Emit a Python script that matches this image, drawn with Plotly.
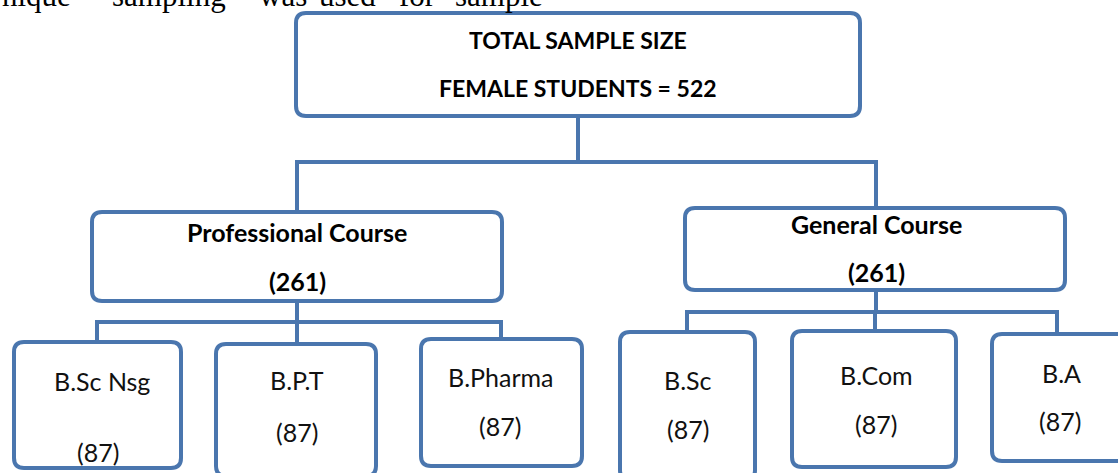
import plotly.graph_objects as go

# ---- data ----
root_lines = ["TOTAL SAMPLE SIZE", "FEMALE STUDENTS = 522"]
groups = ["Professional Course", "General Course"]
group_counts = [261, 261]
courses = ["B.Sc Nsg", "B.P.T", "B.Pharma", "B.Sc", "B.Com", "B.A"]
course_counts = [87, 87, 87, 87, 87, 87]
course_group = [0, 0, 0, 1, 1, 1]
header_words = ["nique", "sampling", "was", "used", "for", "sample"]

# ---- layout (pixel geometry, y down) ----
W, H = 1118, 473
BLUE = "#4a76ae"
LW = 4
root_box = (296, 13, 860, 116)
group_boxes = [(92, 212, 502, 301), (685, 208, 1065, 290)]
course_boxes = [(14, 342, 181, 468), (216, 344, 376, 476), (421, 339, 582, 466),
                (620, 332, 755, 480), (792, 331, 956, 467), (992, 334, 1130, 461)]
group_text_y = [(232, 281), (224, 272)]
course_text = [(102, 381, 98, 452), (297, 380, 297, 432), (500, 377, 500, 426),
               (688, 380, 688, 429), (876, 375, 876, 424), (1061, 373, 1060, 421)]
group_bus_y = [322, 312]
drop_x = [97, 297, 501, 687, 875, 1057]
word_x = [0, 110, 257, 317, 397, 453]
gcx = [297, 876]
root_cx = 578
bus_y = 162

fig = go.Figure()
shapes = []


def rrect(b, r=10):
    x0, y0, x1, y1 = b
    p = (f"M {x0+r},{y0} L {x1-r},{y0} Q {x1},{y0} {x1},{y0+r} "
         f"L {x1},{y1-r} Q {x1},{y1} {x1-r},{y1} L {x0+r},{y1} "
         f"Q {x0},{y1} {x0},{y1-r} L {x0},{y0+r} Q {x0},{y0} {x0+r},{y0} Z")
    return dict(type="path", path=p, xref="x", yref="y",
                line=dict(color=BLUE, width=LW), fillcolor="white", layer="below")


def seg(x0, y0, x1, y1):
    return dict(type="line", x0=x0, y0=y0, x1=x1, y1=y1, xref="x", yref="y",
                line=dict(color=BLUE, width=LW), layer="below")


shapes.append(seg(root_cx, root_box[3], root_cx, bus_y))
shapes.append(seg(gcx[0] - 2, bus_y, gcx[1] + 2, bus_y))
for gi, gb in enumerate(group_boxes):
    shapes.append(seg(gcx[gi], bus_y - 2, gcx[gi], gb[1]))

for gi, gb in enumerate(group_boxes):
    by = group_bus_y[gi]
    members = [i for i, g in enumerate(course_group) if g == gi]
    xs = [drop_x[i] for i in members]
    shapes.append(seg(gcx[gi], gb[3], gcx[gi], by))
    shapes.append(seg(min(xs) - 2, by, max(xs) + 2, by))
    for i in members:
        shapes.append(seg(drop_x[i], by - 2, drop_x[i], course_boxes[i][1]))

shapes.append(rrect(root_box))
for gb in group_boxes:
    shapes.append(rrect(gb))
for cb in course_boxes:
    shapes.append(rrect(cb))

ann = []
BOXFONT = "Lato"
for j, ty in enumerate([40, 88]):
    ann.append(dict(x=root_cx, y=ty, text=f"<b>{root_lines[j]}</b>", showarrow=False,
                    xref="x", yref="y", font=dict(family=BOXFONT, size=23, color="black")))
for gi, g in enumerate(groups):
    ann.append(dict(x=gcx[gi], y=group_text_y[gi][0], text=f"<b>{g}</b>", showarrow=False,
                    xref="x", yref="y", font=dict(family=BOXFONT, size=25, color="black")))
    ann.append(dict(x=gcx[gi], y=group_text_y[gi][1], text=f"<b>({group_counts[gi]})</b>",
                    showarrow=False, xref="x", yref="y",
                    font=dict(family=BOXFONT, size=25, color="black")))
for i, c in enumerate(courses):
    tx, ty, cx, cy = course_text[i]
    ann.append(dict(x=tx, y=ty, text=c, showarrow=False, xref="x", yref="y",
                    font=dict(family=BOXFONT, size=25, color="#111")))
    ann.append(dict(x=cx, y=cy, text=f"({course_counts[i]})", showarrow=False,
                    xref="x", yref="y", font=dict(family=BOXFONT, size=25, color="#111")))
# header sentence, cut at the top edge
for wx, w in zip(word_x, header_words):
    ann.append(dict(x=wx / W, y=1 + 4 / H, text=w, showarrow=False, xanchor="left",
                    yanchor="middle", xref="paper", yref="paper",
                    font=dict(family="Liberation Serif", size=31, color="black")))

fig.update_layout(
    width=W, height=H, margin=dict(l=0, r=0, t=0, b=0),
    paper_bgcolor="white", plot_bgcolor="white",
    xaxis=dict(range=[0, W], visible=False, fixedrange=True),
    yaxis=dict(range=[H, 0], visible=False, fixedrange=True),
    shapes=shapes, annotations=ann, showlegend=False,
)
fig.write_html("out.html", config={"displayModeBar": False},
               post_script="document.body.style.margin='0';document.body.style.overflow='hidden';")
